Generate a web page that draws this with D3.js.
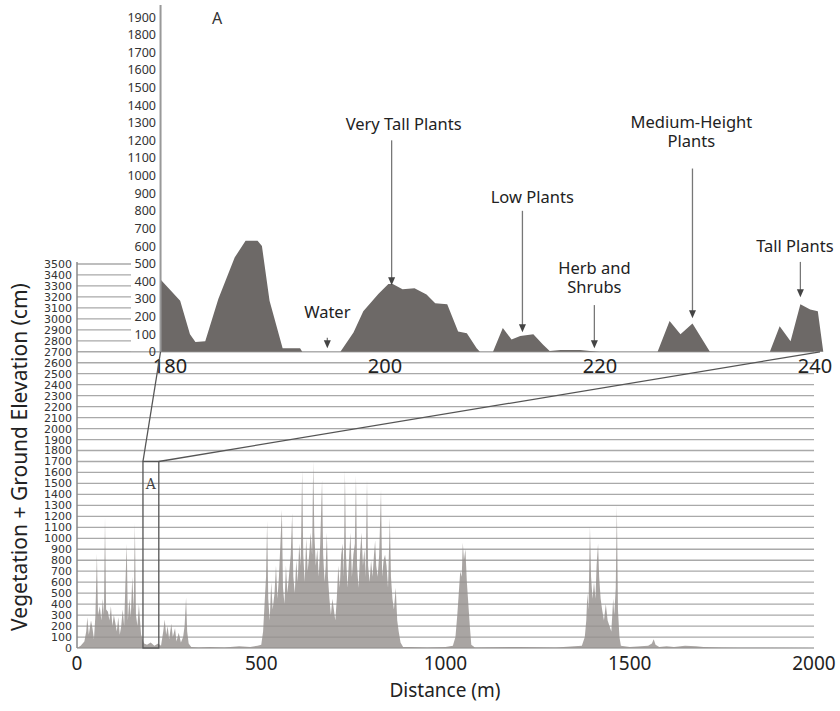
<!DOCTYPE html>
<html>
<head>
<meta charset="utf-8">
<style>
    body { margin: 0; background: white; }
    svg { display: block; font-family: 'Noto Sans', 'Open Sans', sans-serif; }
</style>
</head>
<body>
<svg width="840" height="711"></svg>

<script src="https://d3js.org/d3.v7.min.js"></script>
<script>
    // main profile: distance (m) and vegetation + ground elevation (cm)
    let mainDist = [0, 10, 20, 25, 28, 32, 38, 42, 46, 50, 54, 57, 62, 66, 70, 73, 76, 79, 84, 88, 92, 96, 100, 104, 108, 112, 116, 120, 124, 128, 131, 135, 138, 142, 146, 150, 154, 157, 160, 164, 168, 171, 174, 178, 182, 190, 200, 210, 220, 228, 234, 238, 242, 246, 250, 256, 260, 266, 270, 276, 282, 288, 292, 296, 299, 303, 310,
        330, 360, 400, 440, 470, 490,
        500, 505, 509, 513, 516, 519, 523, 527, 531, 536, 540, 544, 548, 552, 556, 559, 563, 567, 571, 575, 580, 584, 587, 591, 595, 599, 603, 607, 611, 614, 618, 622, 626, 630, 634, 638, 641, 644, 648, 652, 656, 660, 665, 668, 672, 675, 678, 681, 685, 689, 693, 697, 701, 705, 709, 713, 717, 721, 724, 727, 730, 734, 738, 742, 746, 750, 754, 757, 760, 764, 768, 772, 776, 780, 783, 787, 790, 794, 798, 802, 806, 809, 812, 816, 820, 825, 828, 832, 836, 840, 844, 849, 852, 856, 860, 865, 869, 873, 878, 885,
        900, 950, 1000,
        1020, 1027, 1032, 1036, 1040, 1044, 1047, 1050, 1054, 1058, 1062, 1066, 1070,
        1080, 1200, 1300, 1370,
        1378, 1382, 1385, 1388, 1392, 1395, 1399, 1403, 1407, 1410, 1414, 1417, 1421, 1425, 1430, 1435, 1440, 1445, 1450, 1455, 1458, 1462, 1465, 1468, 1472, 1476,
        1500, 1550, 1560, 1565, 1570, 1580, 1600, 1620, 1650, 1680, 1700, 1750, 1800, 2000]
    let mainHeight = [0, 20, 60, 150, 280, 120, 250, 180, 80, 300, 860, 300, 380, 250, 450, 300, 1190, 350, 330, 250, 380, 200, 300, 230, 150, 280, 120, 200, 350, 200, 550, 950, 250, 450, 280, 650, 350, 1140, 300, 200, 400, 250, 120, 80, 40, 30, 50, 20, 40, 20, 150, 260, 120, 200, 80, 220, 100, 180, 60, 140, 50, 100, 200, 460, 150, 40, 10,
        5, 10, 5, 15, 10, 20,
        30, 150, 400, 650, 1160, 450, 250, 600, 350, 500, 750, 450, 650, 950, 1260, 550, 400, 750, 500, 650, 850, 1230, 650, 500, 800, 600, 950, 750, 1620, 850, 600, 1000, 700, 850, 1050, 850, 1700, 1050, 750, 900, 650, 950, 1530, 850, 600, 750, 1050, 650, 450, 300, 450, 350, 250, 450, 750, 550, 850, 950, 650, 1620, 850, 550, 800, 1050, 650, 850, 950, 1570, 750, 550, 850, 1050, 750, 900, 650, 1530, 750, 600, 800, 650, 850, 980, 750, 650, 850, 1440, 650, 800, 850, 750, 550, 1190, 650, 450, 350, 550, 250, 150, 50, 10,
        10, 5, 10,
        20, 100, 300, 500, 700, 650, 960, 800, 900, 600, 400, 200, 30,
        5, 10, 5, 20,
        100, 250, 500, 350, 1110, 650, 450, 600, 450, 750, 950, 650, 450, 350, 250, 400, 250, 200, 150, 450, 300, 550, 1300, 350, 100, 20,
        10, 20, 40, 80, 30, 10, 15, 10, 20, 15, 10, 5, 3, 0]

    let mainXTicks = [0, 500, 1000, 1500, 2000]
    let mainYTicks = d3.range(0, 3501, 100)

    // zoomed section A: distance (m) and height (cm)
    let insetDist = [179.5, 181.3, 182.2, 182.7, 183.6, 184.8, 186.3, 187.3, 188.4, 188.8, 189.5, 190.7, 192.3, 192.5,
        196.0, 197.2, 198.1, 199.5, 200.4, 200.8, 201.7, 202.8, 203.9, 204.7, 205.8, 206.8, 207.6, 208.5, 208.8,
        210.0, 210.9, 211.7, 212.5, 213.7, 214.6, 215.2, 216.2, 218.0, 218.9, 219.8,
        225.1, 226.2, 227.2, 228.3, 229.9,
        235.4, 236.3, 237.3, 238.2, 239.1, 239.8, 240.3]
    let insetHeight = [410, 290, 100, 55, 60, 300, 535, 630, 630, 600, 290, 20, 20, 0,
        0, 110, 230, 330, 385, 385, 355, 360, 325, 275, 270, 115, 105, 20, 0,
        0, 135, 70, 90, 100, 40, 5, 10, 10, 5, 0,
        0, 175, 100, 160, 0,
        0, 145, 60, 270, 240, 230, 0]
    let insetXTicks = [180, 200, 220, 240]
    let insetYTicks = d3.range(0, 1901, 100)

    // annotations in section A
    let annoLabels = [["Very Tall Plants"], ["Low Plants"], ["Herb and", "Shrubs"], ["Medium-Height", "Plants"], ["Tall Plants"], ["Water"]]
    let annoDist = [200.7, 212.7, 219.3, 228.3, 238.2, 194.8]
    let annoTip = [378, 111, 20, 190, 310, 20]
    let annoTop = [1200, 800, 265, 1040, 510, 80]
    let annoLabelDist = [201.8, 213.6, 219.3, 228.2, 237.7, 194.8]
    let annoLabelHeight = [1257, 843, 332, 1160, 565, 190]

    // section box in the main chart (m, cm)
    let boxDist = [179, 222]
    let boxHeight = 1700

    let svg = d3.select("svg")

    let x = d3.scaleLinear().domain([0, 2000]).range([77, 814])
    let y = d3.scaleLinear().domain([0, 3500]).range([648, 264])

    // main gridlines
    svg.append("g")
        .selectAll("line")
        .data(mainYTicks)
        .join("line")
        .attr("x1", x(0))
        .attr("x2", x(2000))
        .attr("y1", d => y(d))
        .attr("y2", d => y(d))
        .attr("stroke", "#a9a9a9")
        .attr("stroke-width", 1.3)

    // main profile
    let area = d3.area()
        .x((d, i) => x(mainDist[i]))
        .y0(y(0))
        .y1(d => y(d))
    svg.append("path")
        .datum(mainHeight)
        .attr("d", area)
        .attr("fill", "#938f8c")
        .attr("fill-opacity", 0.8)

    svg.append("line")
        .attr("x1", x(0)).attr("x2", x(0))
        .attr("y1", y(3500) - 2).attr("y2", y(0))
        .attr("stroke", "#888")
        .attr("stroke-width", 1.5)

    // main y labels
    svg.append("g")
        .selectAll("text")
        .data(mainYTicks)
        .join("text")
        .attr("x", x(0) - 5)
        .attr("y", d => y(d))
        .attr("dy", "0.36em")
        .attr("text-anchor", "end")
        .attr("font-family", "'DejaVu Sans', sans-serif")
        .attr("font-size", 11)
        .attr("fill", "#333")
        .text(d => d)

    // main x labels
    svg.append("g")
        .selectAll("text")
        .data(mainXTicks)
        .join("text")
        .attr("x", d => x(d))
        .attr("y", 670)
        .attr("text-anchor", "middle")
        .attr("font-size", 19)
        .attr("fill", "#222")
        .text(d => d)

    svg.append("text")
        .attr("x", 445)
        .attr("y", 697)
        .attr("text-anchor", "middle")
        .attr("font-size", 19)
        .attr("fill", "#222")
        .text("Distance (m)")

    svg.append("text")
        .attr("transform", "translate(27,457) rotate(-90)")
        .attr("text-anchor", "middle")
        .attr("font-size", 21)
        .attr("fill", "#222")
        .text("Vegetation + Ground Elevation (cm)")

    // ----- inset A -----
    let ix = d3.scaleLinear().domain([180, 240]).range([166, 820])
    let iy = d3.scaleLinear().domain([0, 1900]).range([y(2700), 17])
    let ixLabel = d3.scaleLinear().domain([180, 240]).range([170, 815])

    svg.append("rect")
        .attr("x", 131).attr("y", 0)
        .attr("width", 709).attr("height", y(2700) - 0.7)
        .attr("fill", "white")

    let insetArea = d3.area()
        .x((d, i) => ix(insetDist[i]))
        .y0(iy(0))
        .y1(d => iy(d))
    svg.append("path")
        .datum(insetHeight)
        .attr("d", insetArea)
        .attr("fill", "#6d6967")

    svg.append("line")
        .attr("x1", ix(179.5)).attr("x2", ix(179.5))
        .attr("y1", 5).attr("y2", iy(0))
        .attr("stroke", "#999")
        .attr("stroke-width", 2)

    svg.append("g")
        .selectAll("text")
        .data(insetYTicks)
        .join("text")
        .attr("x", 156)
        .attr("y", d => iy(d))
        .attr("dy", "0.36em")
        .attr("text-anchor", "end")
        .attr("font-size", 12.5)
        .attr("fill", "#333")
        .text(d => d)

    svg.append("g")
        .selectAll("text")
        .data(insetXTicks)
        .join("text")
        .attr("x", d => ixLabel(d))
        .attr("y", 373)
        .attr("text-anchor", "middle")
        .attr("font-size", 20)
        .attr("fill", "#222")
        .text(d => d)

    svg.append("text")
        .attr("x", 217)
        .attr("y", 24)
        .attr("text-anchor", "middle")
        .attr("font-size", 16)
        .attr("fill", "#333")
        .text("A")

    // arrows
    let anno = svg.append("g")
    annoLabels.forEach((lines, i) => {
        let ax = ix(annoDist[i])
        anno.append("line")
            .attr("x1", ax).attr("x2", ax)
            .attr("y1", iy(annoTop[i])).attr("y2", iy(annoTip[i]) - 5)
            .attr("stroke", "#777")
            .attr("stroke-width", 1.3)
        let ty = iy(annoTip[i])
        anno.append("path")
            .attr("d", `M${ax - 3.5},${ty - 8}L${ax + 3.5},${ty - 8}L${ax},${ty}Z`)
            .attr("fill", "#444")
        let ly = iy(annoLabelHeight[i])
        lines.forEach((t, j) => {
            anno.append("text")
                .attr("x", ix(annoLabelDist[i]))
                .attr("y", ly - (lines.length - 1 - j) * 19)
                .attr("text-anchor", "middle")
                .attr("font-size", 16.5)
                .attr("fill", "#222")
                .text(t)
        })
    })

    // section box + connectors
    let bx0 = x(boxDist[0]), bx1 = x(boxDist[1]), by = y(boxHeight)
    svg.append("rect")
        .attr("x", bx0).attr("y", by)
        .attr("width", bx1 - bx0).attr("height", y(0) - by)
        .attr("fill", "none")
        .attr("stroke", "#555")
        .attr("stroke-width", 1.3)
    svg.append("line")
        .attr("x1", bx0).attr("y1", by)
        .attr("x2", ix(179.5)).attr("y2", iy(0))
        .attr("stroke", "#555").attr("stroke-width", 1.3)
    svg.append("line")
        .attr("x1", bx1).attr("y1", by)
        .attr("x2", ix(240)).attr("y2", iy(0))
        .attr("stroke", "#555").attr("stroke-width", 1.3)
    svg.append("text")
        .attr("x", (bx0 + bx1) / 2)
        .attr("y", y(1450))
        .attr("text-anchor", "middle")
        .attr("font-family", "'DejaVu Serif', serif")
        .attr("font-size", 14)
        .attr("fill", "#444")
        .text("A")
</script>
</body>
</html>
